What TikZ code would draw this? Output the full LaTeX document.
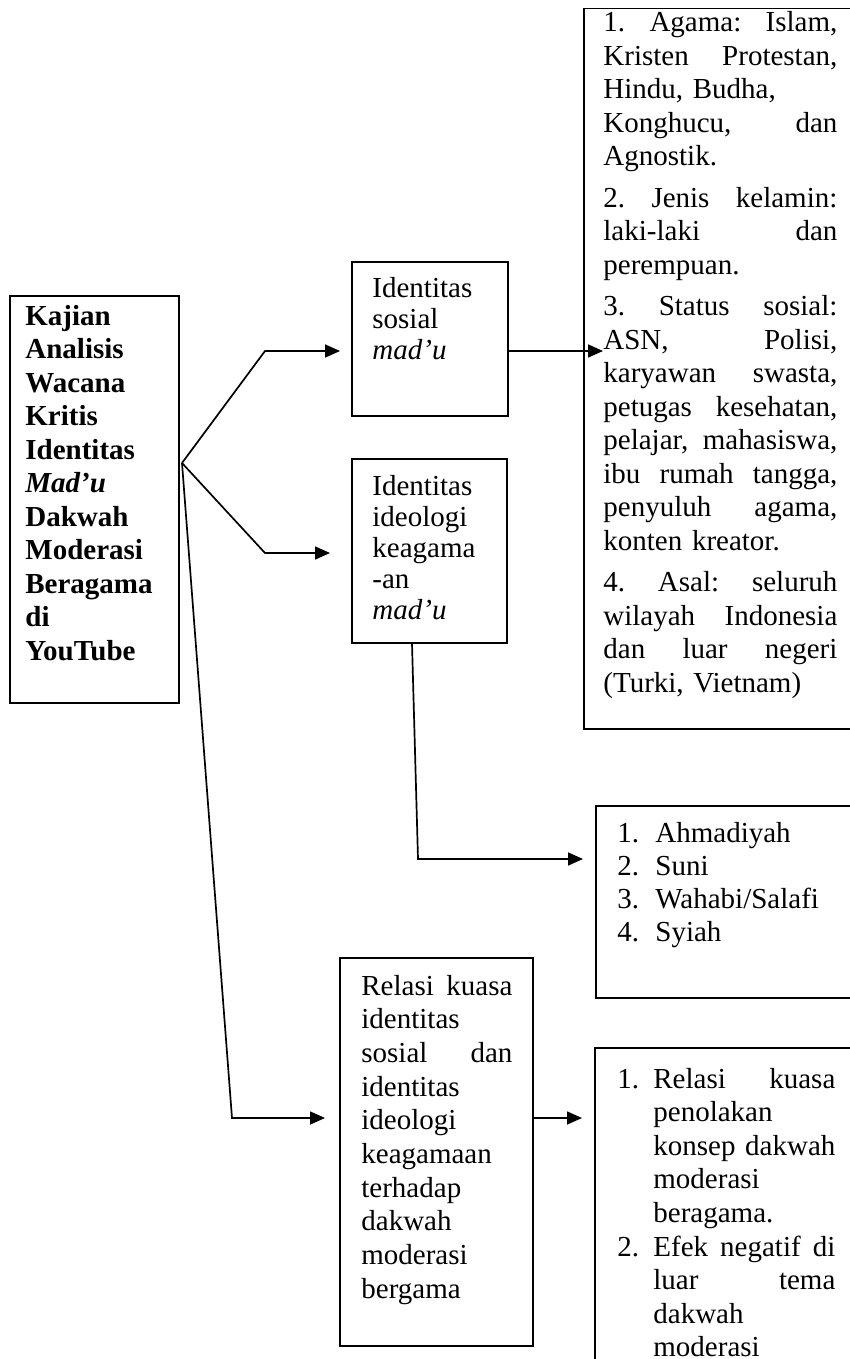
\documentclass[tikz,border=0pt]{standalone}
\usepackage{fontspec}
\setmainfont{Liberation Serif}
\usetikzlibrary{arrows.meta,calc}
\newcommand\fj[1]{\noindent\hbox to\linewidth{#1}}
\newcommand\fr[1]{\noindent\hbox to\linewidth{#1\hfil}}
\newcommand\jl[1]{\par\hbox to\linewidth{#1}}
\newcommand\rl[1]{\par\hbox to\linewidth{#1\hfil}}
\newcommand\ind{\kern18pt\relax}
\newcommand\nm[1]{\hbox to18pt{#1\hfil}}
\newcommand\nmb[1]{\hbox to19pt{#1\hfil}}
\begin{document}
\begin{tikzpicture}[x=0.5pt,y=-0.5pt]
\tikzset{
  frm/.style={draw, line width=0.75pt, inner sep=0pt, anchor=north west},
  tx/.style={anchor=base west, inner sep=0pt, text width=#1},
  conn/.style={line width=0.85pt},
  arr/.style={conn, -{Triangle[length=7.5pt,width=6.5pt]}},
}
\useasboundingbox (0,0) rectangle (850,1359);
\clip (0,0) rectangle (850,1359);
\fill[white] (0,0) rectangle (850,1359);

% boxes
\node[frm, minimum width=84.5pt, minimum height=203.5pt] (L) at (9,295) {};
\node[frm, minimum width=78pt, minimum height=77pt] (B1) at (351,261) {};
\node[frm, minimum width=77.5pt, minimum height=92pt] (B2) at (351,458) {};
\node[frm, minimum width=138.5pt, minimum height=360pt] (R1) at (583,8) {};
\node[frm, minimum width=132.5pt, minimum height=96pt] (R2) at (595,805) {};
\node[frm, minimum width=96.5pt, minimum height=194pt] (B3) at (339,957) {};
\node[frm, minimum width=133.5pt, minimum height=176.5pt] (R3) at (594,1047) {};

% texts
\node[tx=75pt, font={\fontsize{14.5pt}{16.75pt}\selectfont\bfseries}] (Lt) at (25,325)
 {\fr{Kajian}\rl{Analisis}\rl{Wacana}\rl{Kritis}\rl{Identitas}\rl{\textit{Mad’u}}%
  \rl{Dakwah}\rl{Moderasi}\rl{Beragama}\rl{di}\rl{YouTube}};

\node[tx=65pt, font={\fontsize{14.5pt}{15.5pt}\selectfont}] (B1t) at (372,297)
 {\fr{Identitas}\rl{sosial}\rl{\textit{mad’u}}};

\node[tx=65pt, font={\fontsize{14.5pt}{15.5pt}\selectfont}] (B2t) at (372,495)
 {\fr{Identitas}\rl{ideologi}\rl{keagama}\rl{-an}\rl{\textit{mad’u}}};

\node[tx=117pt, font={\fontsize{14.5pt}{16.75pt}\selectfont}] (R1t) at (603,32)
 {\fj{1.\hfill Agama:\hfill Islam,}
  \jl{Kristen\hfill Protestan,}
  \rl{Hindu, Budha,}
  \jl{Konghucu,\hfill dan}
  \rl{Agnostik.}
  \par\vskip4pt
  \jl{2.\hfill Jenis\hfill kelamin:}
  \jl{laki-laki\hfill dan}
  \rl{perempuan.}
  \par\vskip4pt
  \jl{3.\hfill Status\hfill sosial:}
  \jl{ASN,\hfill Polisi,}
  \jl{karyawan\hfill swasta,}
  \jl{petugas\hfill kesehatan,}
  \jl{pelajar,\hfill mahasiswa,}
  \jl{ibu\hfill rumah\hfill tangga,}
  \jl{penyuluh\hfill agama,}
  \rl{konten kreator.}
  \par\vskip4pt
  \jl{4.\hfill Asal:\hfill seluruh}
  \jl{wilayah\hfill Indonesia}
  \jl{dan\hfill luar\hfill negeri}
  \rl{(Turki, Vietnam)}};

\node[tx=110pt, font={\fontsize{14.5pt}{16.65pt}\selectfont}] (R2t) at (617,842)
 {\fr{\nmb{1.}Ahmadiyah}\rl{\nmb{2.}Suni}\rl{\nmb{3.}Wahabi/Salafi}\rl{\nmb{4.}Syiah}};

\node[tx=75.5pt, font={\fontsize{14.5pt}{16.85pt}\selectfont}] (B3t) at (361,995)
 {\fj{Relasi\hfill kuasa}\rl{identitas}\jl{sosial\hfill dan}\rl{identitas}\rl{ideologi}%
  \rl{keagamaan}\rl{terhadap}\rl{dakwah}\rl{moderasi}\rl{bergama}};

\node[tx=109pt, font={\fontsize{14.5pt}{16.8pt}\selectfont}] (R3t) at (617,1088)
 {\fj{\nm{1.}Relasi\hfill kuasa}
  \rl{\ind penolakan}
  \jl{\ind konsep\hfill dakwah}
  \rl{\ind moderasi}
  \rl{\ind beragama.}
  \jl{\nm{2.}Efek\hfill negatif\hfill di}
  \jl{\ind luar\hfill tema}
  \rl{\ind dakwah}
  \rl{\ind moderasi}};

% connectors
\coordinate (J) at (182,463);
\coordinate (u1) at (265,351);
\coordinate (t1) at (340,351);
\coordinate (u2) at (265,553);
\coordinate (t2) at (330,553);
\coordinate (u3) at (232,1118);
\coordinate (t3) at (325,1118);
\coordinate (a1) at (603,351);
\coordinate (d1) at ($(B2.south west)+(61,0)$);
\coordinate (d2) at (418,859);
\coordinate (a2) at (583,859);
\coordinate (a3) at (582,1118);

\draw[arr] (J) -- (u1) -- (t1);
\draw[arr] (J) -- (u2) -- (t2);
\draw[arr] (J) -- (u3) -- (t3);
\draw[arr] (B1.east |- a1) -- (a1);
\draw[arr] (d1) -- (d2) -- (a2);
\draw[arr] (B3.east |- a3) -- (a3);
\end{tikzpicture}
\end{document}
